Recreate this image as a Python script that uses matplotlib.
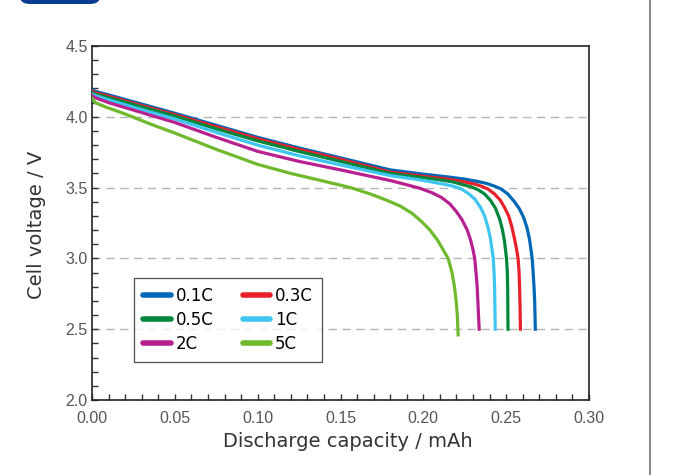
import matplotlib.pyplot as plt
from matplotlib.patches import FancyBboxPatch
from matplotlib.lines import Line2D

# discharge curves (capacity mAh, voltage V)
cap_01c = [0.000, 0.002, 0.01, 0.03, 0.05, 0.075, 0.10, 0.125, 0.15, 0.18, 0.20, 0.215,
           0.225, 0.232, 0.238, 0.243, 0.247, 0.251, 0.255, 0.258, 0.2605, 0.2625,
           0.264, 0.265, 0.2657, 0.2663, 0.2668, 0.2672, 0.2674, 0.2676]
v_01c = [4.19, 4.18, 4.155, 4.09, 4.025, 3.94, 3.855, 3.78, 3.71, 3.625, 3.595, 3.575,
         3.56, 3.545, 3.53, 3.51, 3.49, 3.455, 3.40, 3.35, 3.29, 3.22,
         3.14, 3.06, 3.0, 2.9, 2.8, 2.7, 2.6, 2.5]

cap_03c = [0.000, 0.002, 0.01, 0.03, 0.05, 0.075, 0.10, 0.125, 0.15, 0.18, 0.20, 0.215,
           0.225, 0.231, 0.235, 0.239, 0.243, 0.2465, 0.249, 0.2515, 0.2535, 0.255,
           0.2562, 0.2572, 0.2578, 0.2581, 0.2584, 0.2586]
v_03c = [4.18, 4.17, 4.145, 4.08, 4.015, 3.93, 3.845, 3.77, 3.70, 3.61, 3.58, 3.56,
         3.54, 3.525, 3.51, 3.49, 3.455, 3.41, 3.36, 3.30, 3.22, 3.14,
         3.07, 3.0, 2.9, 2.8, 2.65, 2.5]

cap_05c = [0.000, 0.002, 0.01, 0.03, 0.05, 0.075, 0.10, 0.125, 0.15, 0.18, 0.20, 0.21,
           0.218, 0.224, 0.229, 0.233, 0.237, 0.2405, 0.2435, 0.246, 0.2478, 0.249,
           0.2497, 0.2502, 0.2507, 0.2509, 0.2511]
v_05c = [4.17, 4.16, 4.135, 4.07, 4.005, 3.915, 3.83, 3.755, 3.685, 3.60, 3.57, 3.555,
         3.54, 3.52, 3.505, 3.485, 3.455, 3.41, 3.355, 3.28, 3.20, 3.12,
         3.05, 3.0, 2.9, 2.8, 2.5]

cap_1c = [0.000, 0.002, 0.01, 0.03, 0.05, 0.075, 0.10, 0.125, 0.15, 0.18, 0.195, 0.205,
          0.212, 0.218, 0.223, 0.227, 0.231, 0.2345, 0.237, 0.239, 0.2405, 0.2415,
          0.2422, 0.2427, 0.243, 0.2434]
v_1c = [4.16, 4.15, 4.12, 4.05, 3.985, 3.89, 3.80, 3.725, 3.66, 3.585, 3.56, 3.54,
        3.525, 3.51, 3.49, 3.46, 3.42, 3.36, 3.30, 3.22, 3.14, 3.06,
        3.0, 2.9, 2.8, 2.5]

cap_2c = [0.000, 0.002, 0.01, 0.03, 0.05, 0.075, 0.10, 0.125, 0.15, 0.17, 0.18, 0.19,
          0.198, 0.205, 0.211, 0.216, 0.220, 0.2235, 0.2265, 0.2285, 0.230, 0.231,
          0.2318, 0.2325, 0.2331, 0.2337]
v_2c = [4.15, 4.135, 4.10, 4.03, 3.96, 3.855, 3.756, 3.685, 3.625, 3.575, 3.55, 3.52,
        3.495, 3.465, 3.43, 3.385, 3.33, 3.27, 3.20, 3.13, 3.06, 3.0,
        2.9, 2.8, 2.65, 2.5]

cap_5c = [0.000, 0.002, 0.008, 0.02, 0.035, 0.05, 0.075, 0.10, 0.12, 0.14, 0.156, 0.168,
          0.178, 0.186, 0.193, 0.199, 0.204, 0.2085, 0.212, 0.215, 0.2173, 0.2188,
          0.2198, 0.2205, 0.221]
v_5c = [4.13, 4.10, 4.07, 4.02, 3.95, 3.885, 3.77, 3.664, 3.60, 3.545, 3.50, 3.455,
        3.41, 3.37, 3.32, 3.26, 3.20, 3.13, 3.06, 3.0, 2.9, 2.8,
        2.7, 2.6, 2.46]

labels = ["0.1C", "0.3C", "0.5C", "1C", "2C", "5C"]
colors = ["#0068b7", "#e8202a", "#00873c", "#3ec6f0", "#b7218f", "#6fba2c"]
series = [(cap_01c, v_01c), (cap_03c, v_03c), (cap_05c, v_05c),
          (cap_1c, v_1c), (cap_2c, v_2c), (cap_5c, v_5c)]

fig = plt.figure(figsize=(6.77, 4.75), dpi=100)
ax = fig.add_axes([92 / 677, 75 / 475, (589 - 92) / 677, (400 - 46) / 475])

# little blue badge at the top and the page rule on the right
fig.patches.append(FancyBboxPatch((20 / 677, 1 - 4 / 475), 80 / 677, 20 / 475,
                                  boxstyle="round,pad=0,rounding_size=0.015",
                                  transform=fig.transFigure, fc="#0a3d91", ec="none"))
fig.add_artist(Line2D([650 / 677, 650 / 677], [0, 1], transform=fig.transFigure,
                      color="#8c8c8c", lw=1.5))

for v in [2.5, 3.0, 3.5, 4.0]:
    ax.axhline(v, color="#b4b4b4", lw=1, ls=(0, (6, 4)), zorder=1)

handles = []
for (x, y), c, lab in zip(series, colors, labels):
    h, = ax.plot(x, y, color=c, lw=2.3, label=lab, zorder=3,
                 solid_joinstyle="round")
    handles.append(h)

ax.set_xlim(0, 0.30)
ax.set_ylim(2.0, 4.5)
ax.set_xticks([0.0, 0.05, 0.10, 0.15, 0.20, 0.25, 0.30])
ax.set_xticklabels(["0.00", "0.05", "0.10", "0.15", "0.20", "0.25", "0.30"])
ax.set_yticks([2.0, 2.5, 3.0, 3.5, 4.0, 4.5])
ax.set_yticklabels(["2.0", "2.5", "3.0", "3.5", "4.0", "4.5"])
ax.set_xticks([i * 0.01 for i in range(31)], minor=True)
ax.set_yticks([2.0 + i * 0.1 for i in range(26)], minor=True)
ax.tick_params(which="both", direction="in", length=4, width=1, color="#333333",
               labelsize=11.5, labelcolor="#555555")
for t in ax.get_xticklabels() + ax.get_yticklabels():
    t.set_family("Liberation Sans")
ax.tick_params(axis="x", pad=8)
ax.tick_params(axis="y", pad=3)
for s in ax.spines.values():
    s.set_linewidth(1.2)
    s.set_color("#222222")

lab_font = ["DejaVu Sans"]
ax.set_xlabel("Discharge capacity / mAh", fontsize=14, color="#333333",
              family=lab_font)
ax.xaxis.set_label_coords(0.514, -0.09)
ax.set_ylabel("Cell voltage / V", fontsize=14, color="#333333",
              family=lab_font)
ax.yaxis.set_label_coords(-0.093, 0.495)

order = [0, 2, 4, 1, 3, 5]
leg = ax.legend([handles[i] for i in order], [labels[i] for i in order],
                ncol=2, loc="upper left", bbox_to_anchor=(0.0845, 0.345),
                frameon=True, fancybox=False, edgecolor="#222222",
                handlelength=1.65, handletextpad=0.3, columnspacing=1.75,
                labelspacing=0.36, borderpad=0.55, borderaxespad=0,
                prop={"family": lab_font, "size": 12})
leg.get_frame().set_linewidth(0.9)
for line in leg.get_lines():
    line.set_linewidth(4)
    line.set_solid_capstyle("round")

fig.savefig("out.png", dpi=100)
